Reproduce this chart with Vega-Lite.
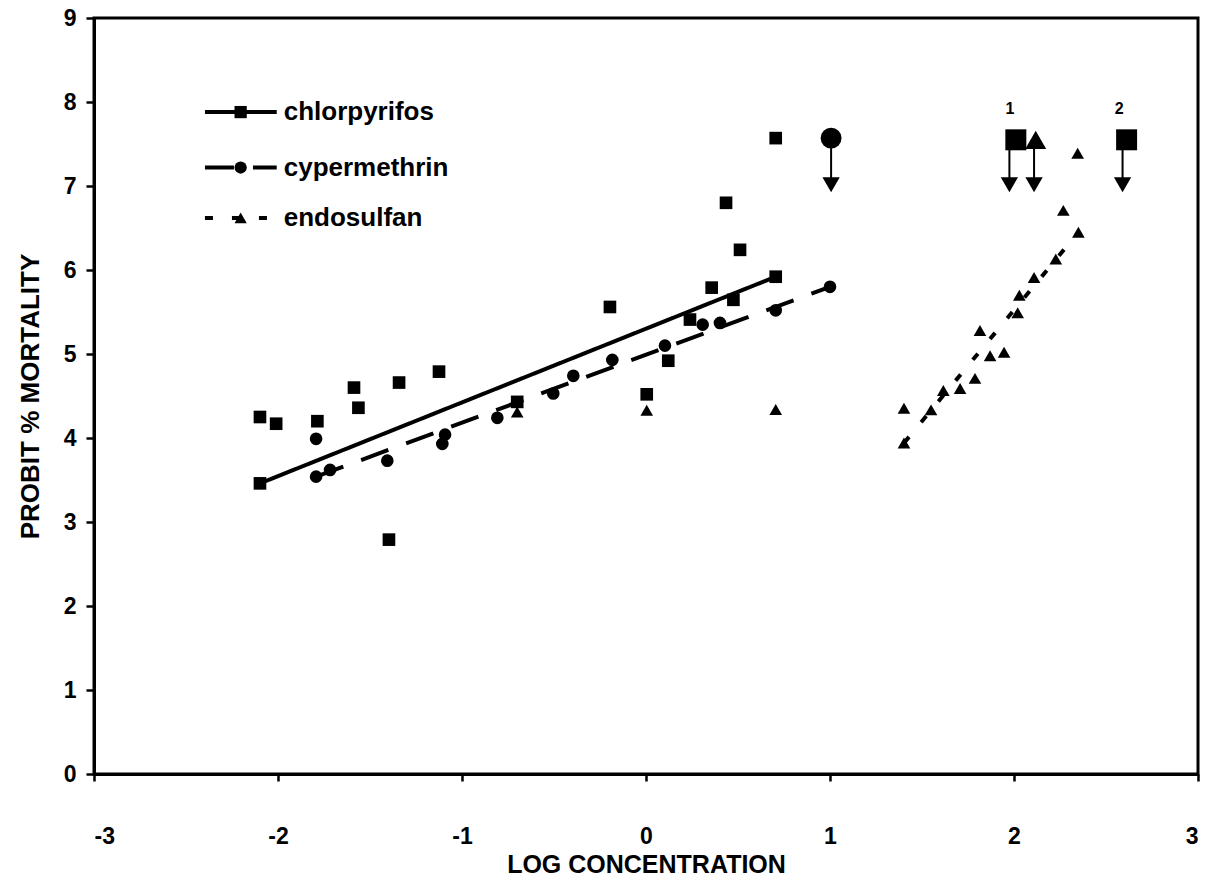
{
  "$schema": "https://vega.github.io/schema/vega-lite/v6.json",
  "width": 1104,
  "height": 756,
  "autosize": "none",
  "padding": {"left": 94, "top": 18, "right": 15, "bottom": 109},
  "background": "white",
  "config": {
    "font": "Liberation Sans",
    "view": {"stroke": "black", "strokeWidth": 3},
    "axis": {
      "grid": false,
      "domainColor": "black",
      "domainWidth": 3,
      "tickColor": "black",
      "tickWidth": 2.5,
      "labelColor": "black",
      "labelFont": "Liberation Sans",
      "labelFontWeight": "bold",
      "labelFontSize": 23,
      "titleColor": "black",
      "titleFont": "Liberation Sans",
      "titleFontWeight": "bold",
      "titleFontSize": 25
    }
  },
  "datasets": {
    "obs": [
      {"series": "chlorpyrifos", "x": -2.098, "y": 3.46},
      {"series": "chlorpyrifos", "x": -2.098, "y": 4.25},
      {"series": "chlorpyrifos", "x": -2.01, "y": 4.17},
      {"series": "chlorpyrifos", "x": -1.786, "y": 4.2},
      {"series": "chlorpyrifos", "x": -1.587, "y": 4.6},
      {"series": "chlorpyrifos", "x": -1.563, "y": 4.36},
      {"series": "chlorpyrifos", "x": -1.397, "y": 2.79},
      {"series": "chlorpyrifos", "x": -1.342, "y": 4.66},
      {"series": "chlorpyrifos", "x": -1.125, "y": 4.79},
      {"series": "chlorpyrifos", "x": -0.7, "y": 4.43},
      {"series": "chlorpyrifos", "x": -0.196, "y": 5.56},
      {"series": "chlorpyrifos", "x": 0.004, "y": 4.52},
      {"series": "chlorpyrifos", "x": 0.121, "y": 4.92},
      {"series": "chlorpyrifos", "x": 0.239, "y": 5.41},
      {"series": "chlorpyrifos", "x": 0.357, "y": 5.79},
      {"series": "chlorpyrifos", "x": 0.435, "y": 6.8},
      {"series": "chlorpyrifos", "x": 0.475, "y": 5.645},
      {"series": "chlorpyrifos", "x": 0.511, "y": 6.24},
      {"series": "chlorpyrifos", "x": 0.705, "y": 5.92},
      {"series": "chlorpyrifos", "x": 0.705, "y": 7.57},
      {"series": "cypermethrin", "x": -1.793, "y": 3.99},
      {"series": "cypermethrin", "x": -1.793, "y": 3.54},
      {"series": "cypermethrin", "x": -1.717, "y": 3.62},
      {"series": "cypermethrin", "x": -1.406, "y": 3.73},
      {"series": "cypermethrin", "x": -1.107, "y": 3.93},
      {"series": "cypermethrin", "x": -1.092, "y": 4.04},
      {"series": "cypermethrin", "x": -0.808, "y": 4.24},
      {"series": "cypermethrin", "x": -0.504, "y": 4.53},
      {"series": "cypermethrin", "x": -0.395, "y": 4.74},
      {"series": "cypermethrin", "x": -0.183, "y": 4.93},
      {"series": "cypermethrin", "x": 0.103, "y": 5.1},
      {"series": "cypermethrin", "x": 0.308, "y": 5.35},
      {"series": "cypermethrin", "x": 0.402, "y": 5.37},
      {"series": "cypermethrin", "x": 0.705, "y": 5.52},
      {"series": "cypermethrin", "x": 1.0, "y": 5.8},
      {"series": "endosulfan", "x": -0.7, "y": 4.31},
      {"series": "endosulfan", "x": 0.004, "y": 4.33},
      {"series": "endosulfan", "x": 0.705, "y": 4.34},
      {"series": "endosulfan", "x": 1.402, "y": 4.355},
      {"series": "endosulfan", "x": 1.402, "y": 3.94},
      {"series": "endosulfan", "x": 1.549, "y": 4.335},
      {"series": "endosulfan", "x": 1.616, "y": 4.565},
      {"series": "endosulfan", "x": 1.707, "y": 4.59},
      {"series": "endosulfan", "x": 1.788, "y": 4.71},
      {"series": "endosulfan", "x": 1.815, "y": 5.28},
      {"series": "endosulfan", "x": 1.87, "y": 4.98},
      {"series": "endosulfan", "x": 1.946, "y": 5.02},
      {"series": "endosulfan", "x": 2.02, "y": 5.49},
      {"series": "endosulfan", "x": 2.029, "y": 5.7},
      {"series": "endosulfan", "x": 2.109, "y": 5.91},
      {"series": "endosulfan", "x": 2.227, "y": 6.13},
      {"series": "endosulfan", "x": 2.268, "y": 6.71},
      {"series": "endosulfan", "x": 2.35, "y": 6.45},
      {"series": "endosulfan", "x": 2.346, "y": 7.39}
    ],
    "fits": [
      {"series": "chlorpyrifos", "x": -2.098, "y": 3.46},
      {"series": "chlorpyrifos", "x": 0.705, "y": 5.92},
      {"series": "cypermethrin", "x": -1.793, "y": 3.54},
      {"series": "cypermethrin", "x": 1.0, "y": 5.8},
      {"series": "endosulfan", "x": 1.402, "y": 3.94},
      {"series": "endosulfan", "x": 2.35, "y": 6.45}
    ],
    "censored": [
      {"series": "cypermethrin", "x": 1.006, "y": 7.57},
      {"series": "chlorpyrifos", "x": 2.01, "y": 7.55},
      {"series": "endosulfan", "x": 2.118, "y": 7.55},
      {"series": "chlorpyrifos", "x": 2.612, "y": 7.55}
    ],
    "arrows": [
      {"x": 1.006, "y": 7.5, "y2": 7.08, "yh": 7.015},
      {"x": 1.975, "y": 7.5, "y2": 7.08, "yh": 7.015},
      {"x": 2.109, "y": 7.5, "y2": 7.08, "yh": 7.015},
      {"x": 2.59, "y": 7.5, "y2": 7.08, "yh": 7.015}
    ],
    "notes": [
      {"label": "1", "x": 1.978, "y": 7.92},
      {"label": "2", "x": 2.572, "y": 7.92}
    ],
    "legendLines": [
      {"series": "chlorpyrifos", "x": -2.397, "y": 7.88},
      {"series": "chlorpyrifos", "x": -2.007, "y": 7.88},
      {"series": "cypermethrin", "x": -2.397, "y": 7.22},
      {"series": "cypermethrin", "x": -2.007, "y": 7.22},
      {"series": "endosulfan", "x": -2.397, "y": 6.62},
      {"series": "endosulfan", "x": -2.007, "y": 6.62}
    ],
    "legendPts": [
      {"series": "chlorpyrifos", "x": -2.203, "y": 7.88},
      {"series": "cypermethrin", "x": -2.203, "y": 7.22},
      {"series": "endosulfan", "x": -2.203, "y": 6.62}
    ]
  },
  "encoding": {
    "x": {
      "field": "x",
      "type": "quantitative",
      "scale": {"domain": [-3, 3], "nice": false, "zero": false},
      "axis": {
        "values": [-3, -2, -1, 0, 1, 2, 3],
        "labelExpr": "'' + datum.value",
        "tickSize": 7,
        "labelPadding": 44,
        "title": "LOG CONCENTRATION",
        "titlePadding": 4
      }
    },
    "y": {
      "field": "y",
      "type": "quantitative",
      "scale": {"domain": [0, 9], "nice": false, "zero": false},
      "axis": {
        "values": [0, 1, 2, 3, 4, 5, 6, 7, 8, 9],
        "labelExpr": "'' + datum.value",
        "tickSize": 8,
        "labelPadding": 10,
        "title": "PROBIT % MORTALITY",
        "titleFontSize": 26,
        "titlePadding": 20
      }
    }
  },
  "layer": [
    {
      "data": {"name": "fits"},
      "mark": {"type": "line", "color": "black", "strokeWidth": 4},
      "encoding": {
        "detail": {"field": "series"},
        "strokeDash": {
          "field": "series",
          "scale": {"domain": ["chlorpyrifos", "cypermethrin", "endosulfan"], "range": [[1, 0], [29, 19], [8, 19]]},
          "legend": null
        }
      }
    },
    {
      "data": {"name": "legendLines"},
      "mark": {"type": "line", "color": "black", "strokeWidth": 4},
      "encoding": {
        "detail": {"field": "series"},
        "strokeDash": {"field": "series", "legend": null}
      }
    },
    {
      "data": {"name": "obs"},
      "mark": {"type": "point", "filled": true, "color": "black", "opacity": 1, "size": 160},
      "encoding": {
        "shape": {
          "field": "series",
          "scale": {"domain": ["chlorpyrifos", "cypermethrin", "endosulfan"], "range": ["square", "circle", "triangle-up"]},
          "legend": null
        }
      }
    },
    {
      "data": {"name": "legendPts"},
      "mark": {"type": "point", "filled": true, "color": "black", "opacity": 1, "size": 150},
      "encoding": {"shape": {"field": "series", "legend": null}}
    },
    {
      "data": {"name": "legendPts"},
      "mark": {"type": "text", "align": "left", "baseline": "middle", "dx": 7, "fontSize": 26, "fontWeight": "bold", "color": "black", "font": "Liberation Sans"},
      "encoding": {"text": {"field": "series"}, "x": {"datum": -2.007}}
    },
    {
      "data": {"name": "censored"},
      "mark": {"type": "point", "filled": true, "color": "black", "opacity": 1, "size": 440},
      "encoding": {"shape": {"field": "series", "legend": null}}
    },
    {
      "data": {"name": "arrows"},
      "mark": {"type": "rule", "color": "black", "strokeWidth": 2},
      "encoding": {"y2": {"field": "y2"}}
    },
    {
      "data": {"name": "arrows"},
      "mark": {"type": "point", "shape": "triangle-down", "filled": true, "color": "black", "opacity": 1, "size": 300},
      "encoding": {"y": {"field": "yh", "type": "quantitative"}}
    },
    {
      "data": {"name": "notes"},
      "mark": {"type": "text", "fontSize": 16, "fontWeight": "bold", "color": "black", "font": "Liberation Sans", "baseline": "middle"},
      "encoding": {"text": {"field": "label"}}
    }
  ]
}
